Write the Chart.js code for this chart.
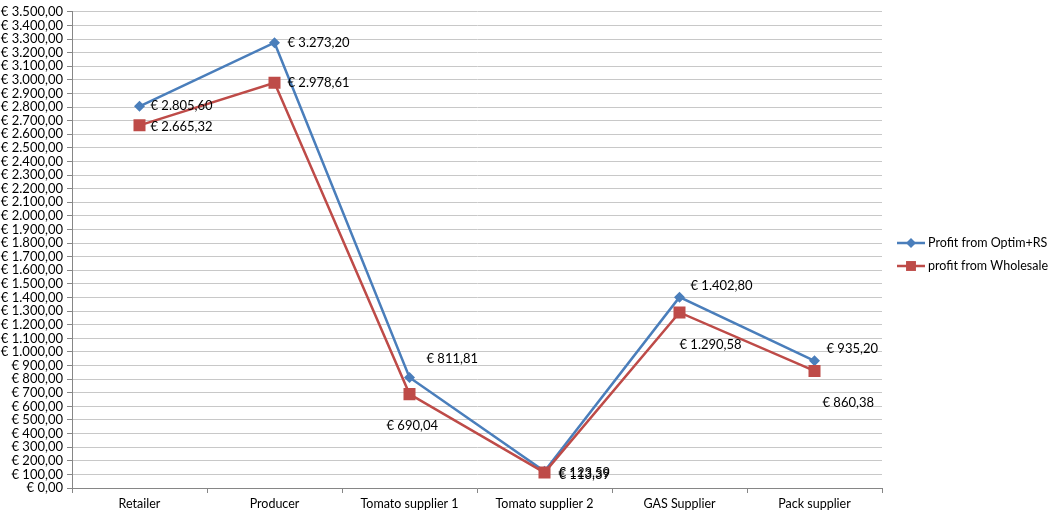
<!DOCTYPE html>
<html>
<head>
<meta charset="utf-8">
<script src="https://cdn.jsdelivr.net/npm/chart.js@4.4.1/dist/chart.umd.min.js"></script>
<style>
  html, body { margin: 0; padding: 0; background: #fff; }
  #wrap { width: 1051px; height: 514px; }
</style>
</head>
<body>
<div id="wrap"><canvas id="chart" width="1051" height="514"></canvas></div>
<script>
const categories = ['Retailer', 'Producer', 'Tomato supplier 1', 'Tomato supplier 2', 'GAS Supplier', 'Pack supplier'];
const optimValues = [2805.60, 3273.20, 811.81, 123.59, 1402.80, 935.20];
const wholesaleValues = [2665.32, 2978.61, 690.04, 113.39, 1290.58, 860.38];
const seriesNames = ['Profit from Optim+RS', 'profit from Wholesale'];

// where each value label sits relative to its point (dx, dy)
const optimLabelOffsets = [[11, 0], [13, 0], [17, -19], [14, 2], [11, -11], [12, -12]];
const wholesaleLabelOffsets = [[11, 1], [13, 0], [-23, 32], [14, 2], [0, 32], [8, 32]];

const BLUE = '#4a7ebb';
const RED = '#be4b48';
const FONT = "Lato, 'Open Sans', sans-serif";

function euro(v) {
    const parts = v.toFixed(2).split('.');
    const intPart = parts[0].replace(/\B(?=(\d{3})+(?!\d))/g, '.');
    return '€ ' + intPart + ',' + parts[1];
}

const valueLabels = {
    id: 'valueLabels',
    afterDatasetsDraw(chart) {
        const ctx = chart.ctx;
        ctx.save();
        ctx.font = '13px ' + FONT;
        ctx.fillStyle = '#000';
        ctx.textAlign = 'left';
        ctx.textBaseline = 'middle';
        const offsets = [optimLabelOffsets, wholesaleLabelOffsets];
        chart.data.datasets.forEach((ds, i) => {
            chart.getDatasetMeta(i).data.forEach((pt, j) => {
                const off = offsets[i][j];
                ctx.fillText(euro(ds.data[j]), pt.x + off[0], pt.y + off[1]);
            });
        });
        ctx.restore();
    }
};

const sideLegend = {
    id: 'sideLegend',
    afterDraw(chart) {
        const ctx = chart.ctx;
        const x0 = chart.chartArea.right + 15;
        const rows = [
            { y: 243, color: BLUE, style: 'rectRot', r: 5 },
            { y: 266, color: RED, style: 'rect', r: 7 }
        ];
        ctx.save();
        rows.forEach((row, i) => {
            ctx.strokeStyle = row.color;
            ctx.lineWidth = 2.5;
            ctx.beginPath();
            ctx.moveTo(x0, row.y);
            ctx.lineTo(x0 + 28, row.y);
            ctx.stroke();
            ctx.fillStyle = row.color;
            Chart.helpers.drawPoint(ctx, { pointStyle: row.style, radius: row.r, borderWidth: 0 }, x0 + 14, row.y);
            ctx.fillStyle = '#000';
            ctx.font = '12.5px ' + FONT;
            ctx.textBaseline = 'middle';
            ctx.fillText(seriesNames[i], x0 + 31, row.y);
        });
        ctx.restore();
    }
};

new Chart(document.getElementById('chart').getContext('2d'), {
    type: 'line',
    data: {
        labels: categories,
        datasets: [
            {
                label: seriesNames[0],
                data: optimValues,
                borderColor: BLUE,
                backgroundColor: BLUE,
                borderWidth: 2.5,
                pointStyle: 'rectRot',
                pointRadius: 5.5,
                pointBorderWidth: 0,
                tension: 0,
                order: 2
            },
            {
                label: seriesNames[1],
                data: wholesaleValues,
                borderColor: RED,
                backgroundColor: RED,
                borderWidth: 2.5,
                pointStyle: 'rect',
                pointRadius: 8.5,
                pointBorderWidth: 0,
                tension: 0,
                order: 1
            }
        ]
    },
    options: {
        responsive: false,
        animation: false,
        layout: { padding: { top: -3, right: 169, bottom: 0, left: 0 } },
        plugins: {
            legend: { display: false },
            tooltip: { enabled: false }
        },
        scales: {
            x: {
                offset: true,
                grid: {
                    offset: true,
                    drawOnChartArea: false,
                    drawTicks: true,
                    tickLength: 5,
                    color: '#868686'
                },
                border: { color: '#868686', width: 1 },
                ticks: {
                    color: '#000',
                    font: { family: FONT, size: 12.5 },
                    padding: 3,
                    maxRotation: 0,
                    autoSkip: false
                }
            },
            y: {
                min: 0,
                max: 3500,
                afterFit(scale) { scale.width = 72; },
                grid: {
                    color: '#c8c8c8',
                    lineWidth: 1,
                    tickLength: 5,
                    tickColor: '#868686'
                },
                border: { color: '#868686', width: 1 },
                ticks: {
                    stepSize: 100,
                    autoSkip: false,
                    color: '#000',
                    padding: 4,
                    font: { family: FONT, size: 13 },
                    callback: v => euro(v)
                }
            }
        }
    },
    plugins: [valueLabels, sideLegend]
});
</script>
</body>
</html>
